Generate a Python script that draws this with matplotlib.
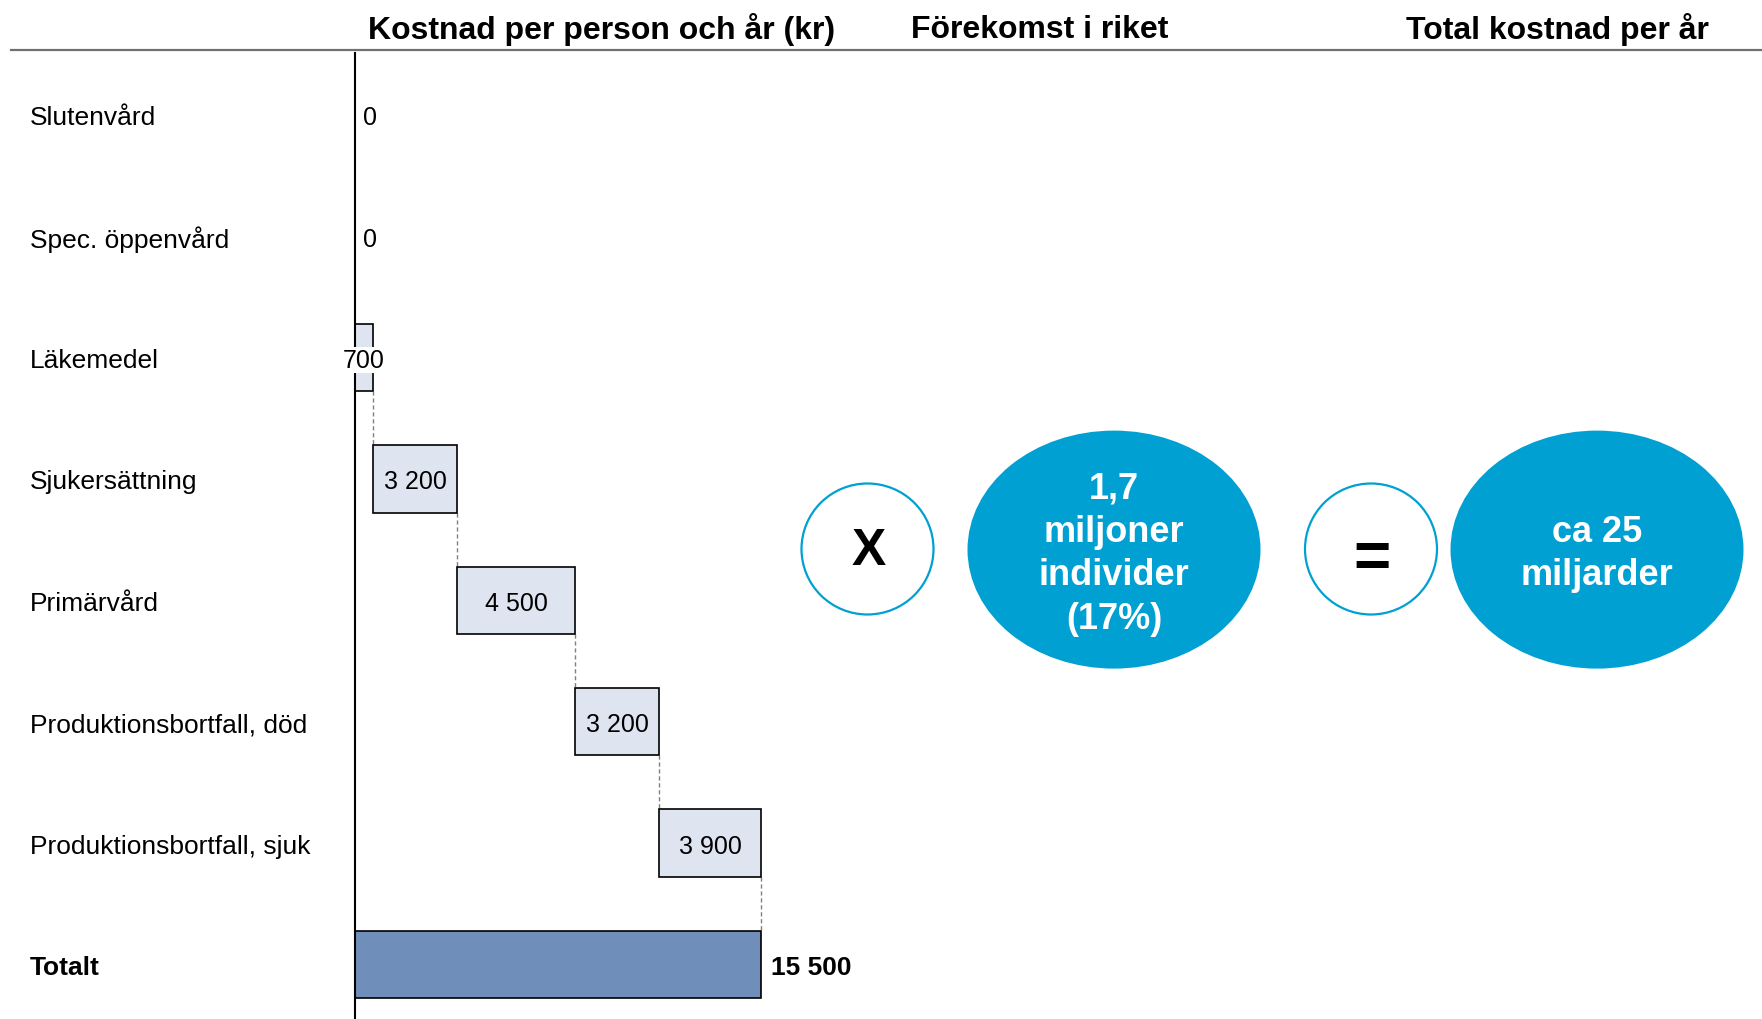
import matplotlib
matplotlib.use("Agg")
import matplotlib.pyplot as plt
from matplotlib.patches import Ellipse
from matplotlib.transforms import blended_transform_factory
import numpy as np

plt.rcParams['font.family'] = ['Liberation Sans', 'DejaVu Sans']

# Cost components per person and year (kr)
categories = ["Slutenvård", "Spec. öppenvård", "Läkemedel", "Sjukersättning",
              "Primärvård", "Produktionsbortfall, död", "Produktionsbortfall, sjuk"]
values = [0, 0, 700, 3200, 4500, 3200, 3900]
total_label = "Totalt"
total_value = 15500

headers = ["Kostnad per person och år (kr)", "Förekomst i riket", "Total kostnad per år"]
prevalence_text = "1,7\nmiljoner\nindivider\n(17%)"
result_text = "ca 25\nmiljarder"

W, H = 1762, 1020
fig = plt.figure(figsize=(W / 100, H / 100), dpi=100)

LIGHT = "#DFE5F0"
DARK = "#6F8EBA"
BLUE = "#00A0D2"

def fmt(v):
    return f"{v:,}".replace(",", " ")

# Waterfall axes
px_per_unit = 0.0262
ax_left_px, ax_w_px = 355, 420
row0_px, row_step = 115.7, 121.4
top_px, bot_px = 54, 1020
ax = fig.add_axes([ax_left_px / W, 0, ax_w_px / W, (bot_px - top_px) / H])
ax.set_xlim(0, ax_w_px / px_per_unit)
ax.set_ylim((bot_px - row0_px) / row_step, (top_px - row0_px) / row_step)
for s in ["top", "right", "bottom"]:
    ax.spines[s].set_visible(False)
ax.spines["left"].set_linewidth(1.5)
ax.set_xticks([])
ax.set_yticks([])

bar_h = 0.555
starts = np.concatenate([[0], np.cumsum(values)[:-1]])
ends = starts + np.array(values)

for i, (v, s) in enumerate(zip(values, starts)):
    if v > 0:
        ax.barh(i, v, left=s, height=bar_h, color=LIGHT, edgecolor="black",
                linewidth=1.2, zorder=2)

total_row = len(categories)
ax.barh(total_row, total_value, left=0, height=bar_h, color=DARK,
        edgecolor="black", linewidth=1.2, zorder=2)

# Dashed connectors between consecutive bars
for i in range(2, len(values)):
    nxt_top = i + 1 - bar_h / 2
    ax.plot([ends[i], ends[i]], [i + bar_h / 2, nxt_top], ls=(0, (3, 2)),
            color="#808080", lw=1.0, zorder=1)

# Value labels
for i, (v, s) in enumerate(zip(values, starts)):
    if v == 0:
        ax.text(300, i, "0", ha="left", va="center_baseline", fontsize=18)
    elif v < 1500:
        ax.text(s + v / 2, i, fmt(v), ha="center", va="center_baseline", fontsize=18,
                zorder=3, bbox=dict(facecolor="white", edgecolor="none", pad=0.5))
    else:
        ax.text(s + v / 2, i, fmt(v), ha="center", va="center_baseline",
                fontsize=18, zorder=3)
ax.text(total_value + 380, total_row, fmt(total_value), ha="left",
        va="center_baseline", fontsize=19, fontweight="bold")

# Category labels
tr = blended_transform_factory(fig.transFigure, ax.transData)
for i, c in enumerate(categories):
    ax.text(30 / W, i, c, transform=tr, ha="left", va="center_baseline", fontsize=19)
ax.text(30 / W, total_row, total_label, transform=tr, ha="left",
        va="center_baseline", fontsize=19, fontweight="bold")

# Overlay in pixel coordinates for headers and circles
ov = fig.add_axes([0, 0, 1, 1], zorder=-1)
ov.set_xlim(0, W)
ov.set_ylim(H, 0)
ov.axis("off")
ov.patch.set_alpha(0)

ov.plot([11, W], [50.6, 50.6], color="#707070", lw=1.6)
for x, t in zip([601.7, 1039.4, 1557], headers):
    ov.text(x, 30, t, ha="center", va="center", fontsize=23, fontweight="bold")

ov.add_patch(Ellipse((867.5, 550), 132, 131, facecolor="white", edgecolor=BLUE, lw=1.6))
ov.add_patch(Ellipse((1371, 550), 132, 131, facecolor="white", edgecolor=BLUE, lw=1.6))
ov.add_patch(Ellipse((1114, 550.6), 293, 238, facecolor=BLUE, edgecolor="none"))
ov.add_patch(Ellipse((1597, 550.6), 293, 238, facecolor=BLUE, edgecolor="none"))

ov.text(869, 552, "X", ha="center", va="center", fontsize=37, fontweight="bold")
ov.text(1372.5, 560, "=", ha="center", va="center", fontsize=46, fontweight="bold")
ov.text(1114, 554, prevalence_text, ha="center", va="center", fontsize=26,
        fontweight="bold", color="white", linespacing=1.32)
ov.text(1597, 554, result_text, ha="center", va="center", fontsize=26,
        fontweight="bold", color="white", linespacing=1.32)

fig.savefig("out.png", dpi=100)
